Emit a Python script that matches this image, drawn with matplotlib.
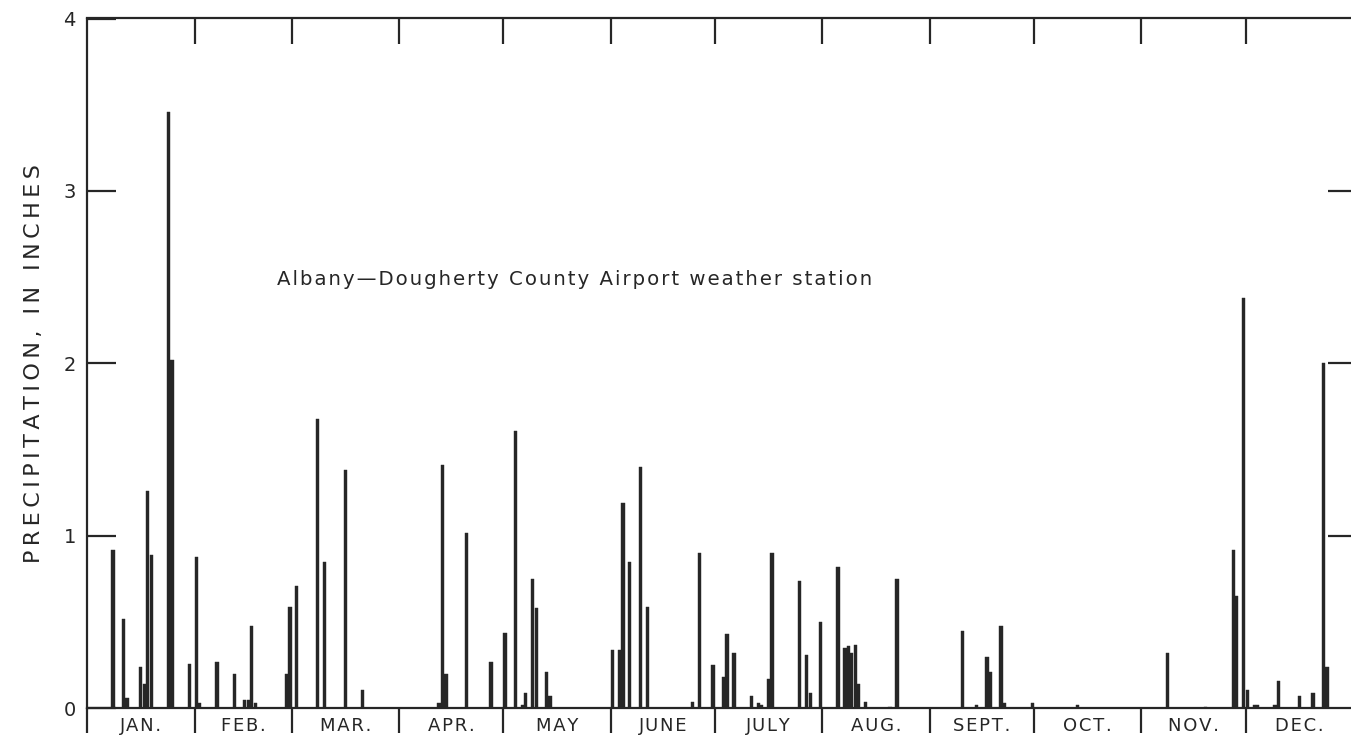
import numpy as np
import matplotlib
matplotlib.use("Agg")
import matplotlib.pyplot as plt

# Daily precipitation totals (inches), by day of year
days = [8, 11, 12, 16, 17, 18, 19, 24, 25, 30, 32, 33,
        38, 43, 46, 47, 48, 49, 58, 59,
        61, 67, 69, 75, 80,
        102, 103, 104, 110, 117,
        121, 124, 126, 127, 129, 130, 133, 134,
        152, 154, 155, 157, 160, 162, 175, 177, 181,
        184, 185, 187, 192, 194, 195, 197, 198, 206, 208, 209,
        212, 217, 219, 220, 221, 222, 223, 225, 232, 234,
        253, 257, 260, 261, 264, 265, 273,
        286,
        312, 323, 331, 332, 334, 335,
        337, 338, 343, 344, 350, 354, 357, 358]
precip = [0.92, 0.52, 0.06, 0.24, 0.14, 1.26, 0.89, 3.46, 2.02, 0.26, 0.88, 0.03,
          0.27, 0.20, 0.05, 0.05, 0.48, 0.03, 0.20, 0.59,
          0.71, 1.68, 0.85, 1.38, 0.11,
          0.03, 1.41, 0.20, 1.02, 0.27,
          0.44, 1.61, 0.02, 0.09, 0.75, 0.58, 0.21, 0.07,
          0.34, 0.34, 1.19, 0.85, 1.40, 0.59, 0.04, 0.90, 0.25,
          0.18, 0.43, 0.32, 0.07, 0.03, 0.02, 0.17, 0.90, 0.74, 0.31, 0.09,
          0.50, 0.82, 0.35, 0.36, 0.32, 0.37, 0.14, 0.04, 0.01, 0.75,
          0.45, 0.02, 0.30, 0.21, 0.48, 0.03, 0.03,
          0.02,
          0.32, 0.01, 0.92, 0.65, 2.38, 0.11,
          0.02, 0.02, 0.02, 0.16, 0.07, 0.09, 2.00, 0.24]

months = ["JAN.", "FEB.", "MAR.", "APR.", "MAY", "JUNE",
          "JULY", "AUG.", "SEPT.", "OCT.", "NOV.", "DEC."]
month_starts = [0, 31, 59, 90, 120, 151, 181, 212, 243, 273, 304, 334, 365]

ink = "#262626"
plt.rcParams['font.family'] = ['DejaVu Sans']


def spaced(s, gap):
    # open up the lettering a little, like hand-lettered captions
    return gap.join(s)


fig = plt.figure(figsize=(13.51, 7.40), dpi=100)
fig.patch.set_facecolor("white")
ax = fig.add_axes([0.0644, 0.0426, 0.9371, 0.9324])

x = np.array(days) - 0.5
ax.bar(x, precip, width=0.95, color=ink, edgecolor=ink, linewidth=0.3)

ax.set_xlim(0, 365)
ax.set_ylim(0, 4)

for side in ["left", "bottom"]:
    ax.spines[side].set_color(ink)
    ax.spines[side].set_linewidth(1.6)
ax.spines["top"].set_visible(False)
ax.spines["right"].set_visible(False)

# bottom: month boundary ticks pointing down, month names centred in between
ax.set_xticks(month_starts)
ax.set_xticklabels([])
ax.set_xticks([(a + b) / 2 for a, b in zip(month_starts[:-1], month_starts[1:])], minor=True)
ax.set_xticklabels([spaced(m, "\u200a") for m in months], minor=True, fontsize=13, color=ink)
ax.tick_params(axis="x", which="major", direction="out", length=18, width=1.6, color=ink)
ax.tick_params(axis="x", which="minor", length=0, pad=6)

# top: month boundary ticks pointing in
top = ax.secondary_xaxis("top")
top.set_xticks(month_starts[1:-1])
top.set_xticklabels([])
top.tick_params(direction="in", length=19, width=1.6, color=ink)
top.spines["top"].set_linewidth(1.6)
top.spines["top"].set_color(ink)

# left: inch ticks pointing in
ax.set_yticks([0, 1, 2, 3, 4])
ax.set_yticklabels(["0", "1", "2", "3", "4"], fontsize=14, color=ink)
ax.tick_params(axis="y", direction="in", length=21, width=1.6, color=ink, pad=8)

right = ax.secondary_yaxis("right")
right.set_yticks([1, 2, 3])
right.set_yticklabels([])
right.tick_params(direction="in", length=18, width=1.6, color=ink)
right.spines["right"].set_linewidth(1.6)
right.spines["right"].set_color(ink)

ax.set_ylabel(spaced("PRECIPITATION, IN INCHES", "\u2009"), fontsize=16, color=ink, labelpad=14)

ax.text(0.150, 0.614, spaced("Albany\u2014Dougherty County Airport weather station", "\u200a"),
        transform=ax.transAxes, fontsize=14.2, color=ink, va="baseline", ha="left")

fig.savefig("out.png", dpi=100, facecolor="white")
